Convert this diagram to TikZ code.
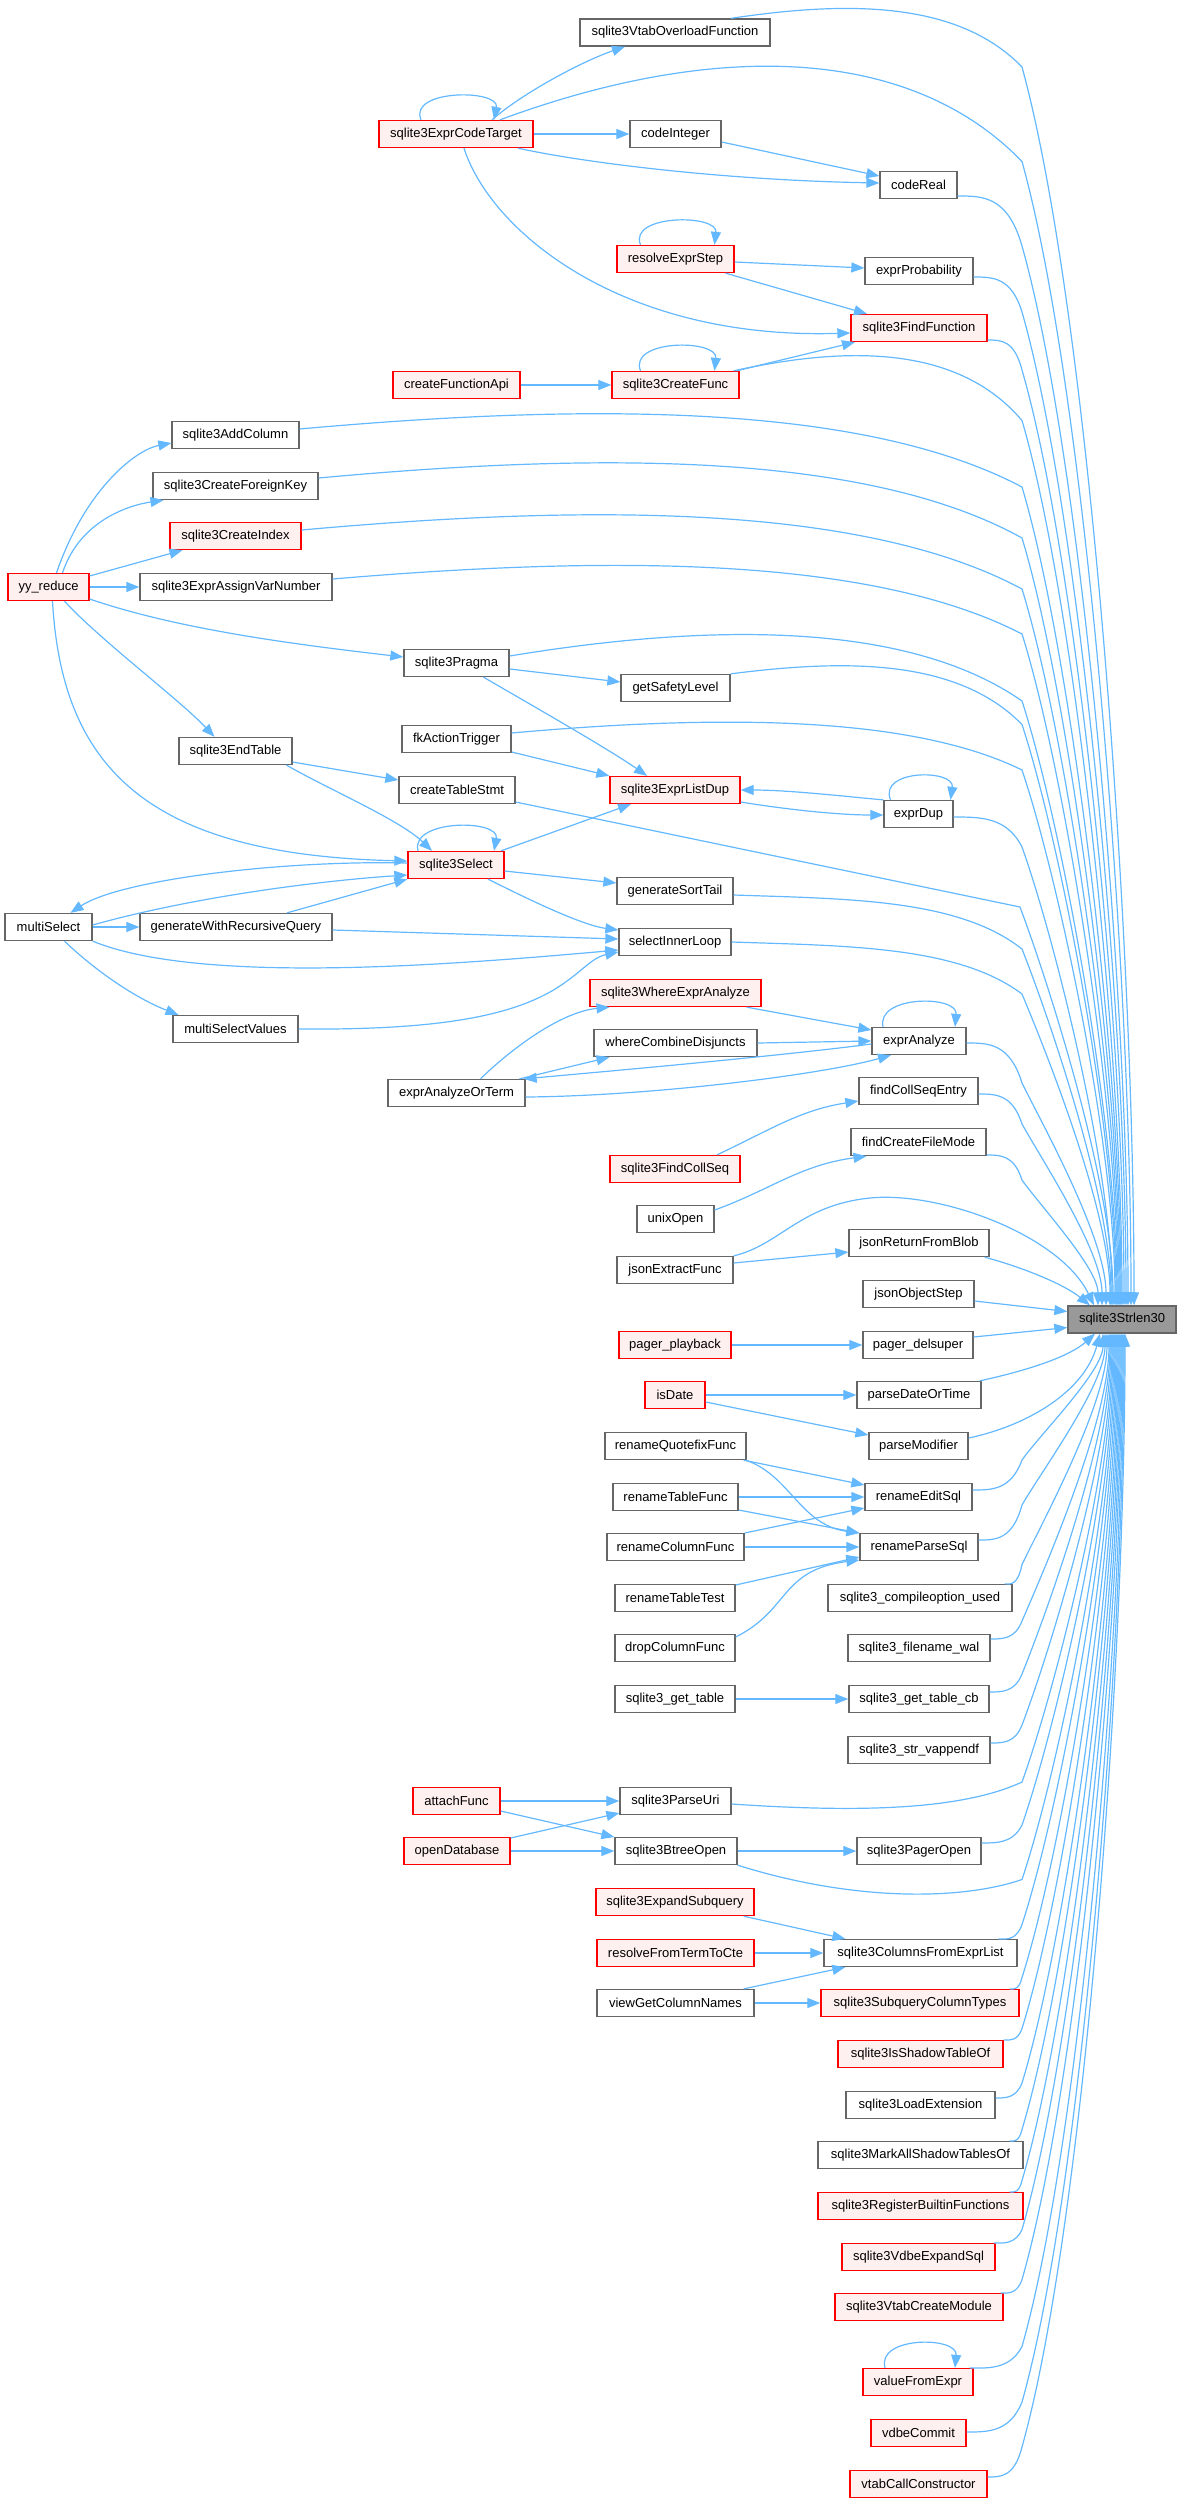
\documentclass[tikz,border=0pt]{standalone}
\usepackage{fontspec}
\setmainfont{Liberation Sans}
\usetikzlibrary{arrows.meta}
\definecolor{ecol}{HTML}{63B8FF}
\definecolor{gborder}{HTML}{666666}
\definecolor{rfill}{HTML}{FFF0F0}
\definecolor{rootfill}{HTML}{999999}
\tikzset{
 nd/.style={draw=gborder, fill=white, line width=1.3pt, minimum height=27pt, inner sep=0pt, font=\fontsize{13}{15}\selectfont, text=black},
 rd/.style={nd, draw=red, fill=rfill},
 rootnd/.style={nd, fill=rootfill},
 conn/.style={draw=ecol, line width=1.2pt, -{Triangle[length=13pt,width=10pt]}},
}
\newcommand\NB[6]{\node[#1,minimum width=#5pt] (#2) at (#3,#4) {#6};}
% upper edge into root top
\newcommand\UE[6]{%
 \pgfmathsetmacro\qD{1022-#2}%
 \pgfmathsetmacro\qa{#2+0.4*\qD}%
 \pgfmathsetmacro\qb{#3-1.3*(#5)}%
 \pgfmathsetmacro\qc{1022-0.22*\qD}%
 \pgfmathsetmacro\qk{#3+(#6)}%
 \pgfmathsetmacro\qL{1305.5-\qk}%
 \pgfmathsetmacro\qe{1022+0.045*\qL+12}%
 \pgfmathsetmacro\qf{\qk+0.2*\qL}%
 \pgfmathsetmacro\qg{\qk+0.7*\qL}%
 \pgfmathsetmacro\qx{#4-1122}%
 \draw[conn] (#1) .. controls (\qa,\qb) and (\qc,\qb) .. (1022,\qk) .. controls (\qe,\qf) and (#4,\qg) .. ([xshift=\qx pt]s30.north);
}
% lower edge into root bottom
\newcommand\DE[6]{%
 \pgfmathsetmacro\qD{1022-#2}%
 \pgfmathsetmacro\qa{#2+0.4*\qD}%
 \pgfmathsetmacro\qb{#3+1.3*(#5)}%
 \pgfmathsetmacro\qc{1022-0.22*\qD}%
 \pgfmathsetmacro\qk{#3-(#6)}%
 \pgfmathsetmacro\qL{\qk-1333.5}%
 \pgfmathsetmacro\qe{1022+0.045*\qL+12}%
 \pgfmathsetmacro\qf{\qk-0.2*\qL}%
 \pgfmathsetmacro\qg{\qk-0.7*\qL}%
 \pgfmathsetmacro\qx{#4-1122}%
 \draw[conn] (#1) .. controls (\qa,\qb) and (\qc,\qb) .. (1022,\qk) .. controls (\qe,\qf) and (#4,\qg) .. ([xshift=\qx pt]s30.south);
}
\begin{document}
\begin{tikzpicture}[x=1pt,y=-1pt]
\useasboundingbox (0,0) rectangle (1181,2502);
% column A
\NB{rd}{yyr}{48.5}{587}{81}{yy\_reduce}
\NB{nd}{msel}{48.5}{927}{87}{multiSelect}
% column B
\NB{nd}{addc}{235.5}{435}{127}{sqlite3AddColumn}
\NB{nd}{cfk}{235.5}{486}{165}{sqlite3CreateForeignKey}
\NB{rd}{cidx}{235.5}{536}{131}{sqlite3CreateIndex}
\NB{nd}{eavn}{236}{587}{192}{sqlite3ExprAssignVarNumber}
\NB{nd}{endt}{235.5}{751}{113}{sqlite3EndTable}
\NB{nd}{gwrq}{236}{927}{192}{generateWithRecursiveQuery}
\NB{nd}{msv}{235.5}{1029}{125}{multiSelectValues}
% column C
\NB{rd}{ect}{456}{134}{154}{sqlite3ExprCodeTarget}
\NB{rd}{cfa}{456.5}{385}{127}{createFunctionApi}
\NB{nd}{prag}{456.5}{663}{105}{sqlite3Pragma}
\NB{nd}{fkat}{456.5}{739}{109}{fkActionTrigger}
\NB{nd}{cts}{457}{790}{116}{createTableStmt}
\NB{rd}{sel}{456}{865}{96}{sqlite3Select}
\NB{nd}{eaot}{456.5}{1093}{137}{exprAnalyzeOrTerm}
\NB{rd}{attf}{456.5}{1801}{87}{attachFunc}
\NB{rd}{opdb}{457}{1851}{106}{openDatabase}
% column D
\NB{nd}{vof}{675}{32.5}{190}{sqlite3VtabOverloadFunction}
\NB{nd}{cint}{675.5}{134}{91}{codeInteger}
\NB{rd}{res}{675.5}{259}{117}{resolveExprStep}
\NB{rd}{cfn}{675.5}{385}{127}{sqlite3CreateFunc}
\NB{nd}{gsl}{675.5}{688}{109}{getSafetyLevel}
\NB{rd}{eld}{675}{790}{130}{sqlite3ExprListDup}
\NB{nd}{gst}{675}{891}{116}{generateSortTail}
\NB{nd}{sil}{675}{942}{112}{selectInnerLoop}
\NB{rd}{wea}{675.5}{993}{171}{sqlite3WhereExprAnalyze}
\NB{nd}{wcd}{675.5}{1043}{163}{whereCombineDisjuncts}
\NB{rd}{fcs}{675}{1169}{130}{sqlite3FindCollSeq}
\NB{nd}{uxo}{675.5}{1219}{77}{unixOpen}
\NB{nd}{jef}{675}{1270}{116}{jsonExtractFunc}
\NB{rd}{ppb}{675}{1345}{112}{pager\_playback}
\NB{rd}{isd}{675}{1395}{60}{isDate}
\NB{nd}{rqf}{675.5}{1446}{141}{renameQuotefixFunc}
\NB{nd}{rtf}{675.5}{1497}{125}{renameTableFunc}
\NB{nd}{rcf}{675.5}{1547}{137}{renameColumnFunc}
\NB{nd}{rtt}{675}{1598}{120}{renameTableTest}
\NB{nd}{dcf}{675}{1648}{120}{dropColumnFunc}
\NB{nd}{sgt}{675}{1699}{120}{sqlite3\_get\_table}
\NB{nd}{pu}{675.5}{1801}{111}{sqlite3ParseUri}
\NB{nd}{bto}{676}{1851}{122}{sqlite3BtreeOpen}
\NB{rd}{exs}{675}{1902}{158}{sqlite3ExpandSubquery}
\NB{rd}{rfc}{675.5}{1953}{157}{resolveFromTermToCte}
\NB{nd}{vgcn}{675.5}{2003}{157}{viewGetColumnNames}
% column E
\NB{nd}{creal}{918.5}{185}{77}{codeReal}
\NB{nd}{eprob}{919}{271}{108}{exprProbability}
\NB{rd}{ffn}{919}{328}{136}{sqlite3FindFunction}
\NB{nd}{edup}{918.5}{814}{69}{exprDup}
\NB{nd}{ean}{919}{1041}{94}{exprAnalyze}
\NB{nd}{fcse}{918.5}{1091}{119}{findCollSeqEntry}
\NB{nd}{fcfm}{918.5}{1142}{135}{findCreateFileMode}
\NB{nd}{jrfb}{919}{1243}{140}{jsonReturnFromBlob}
\NB{nd}{jos}{918.5}{1294}{111}{jsonObjectStep}
\NB{nd}{pds}{918}{1345}{110}{pager\_delsuper}
\NB{nd}{pdot}{919}{1395}{124}{parseDateOrTime}
\NB{nd}{pmod}{918.5}{1446}{99}{parseModifier}
\NB{nd}{res2}{918.5}{1497}{107}{renameEditSql}
\NB{nd}{rps}{919}{1547}{118}{renameParseSql}
\NB{nd}{cou}{920}{1598}{184}{sqlite3\_compileoption\_used}
\NB{nd}{fwal}{919}{1648}{142}{sqlite3\_filename\_wal}
\NB{nd}{gtcb}{919}{1699}{140}{sqlite3\_get\_table\_cb}
\NB{nd}{svf}{919}{1750}{142}{sqlite3\_str\_vappendf}
\NB{nd}{pgo}{919}{1851}{124}{sqlite3PagerOpen}
\NB{nd}{cfel}{920.5}{1953}{193}{sqlite3ColumnsFromExprList}
\NB{rd}{sct}{920}{2003}{198}{sqlite3SubqueryColumnTypes}
\NB{rd}{isto}{920.5}{2054}{165}{sqlite3IsShadowTableOf}
\NB{nd}{lext}{920.5}{2105}{149}{sqlite3LoadExtension}
\NB{nd}{mast}{920.5}{2155}{205}{sqlite3MarkAllShadowTablesOf}
\NB{rd}{rbf}{920.5}{2206}{205}{sqlite3RegisterBuiltinFunctions}
\NB{rd}{ves}{918.5}{2257}{153}{sqlite3VdbeExpandSql}
\NB{rd}{vcm}{919}{2307}{168}{sqlite3VtabCreateModule}
\NB{rd}{vfe}{918}{2382}{110}{valueFromExpr}
\NB{rd}{vdc}{918.5}{2433}{95}{vdbeCommit}
\NB{rd}{vcc}{918.5}{2484}{137}{vtabCallConstructor}
% root
\NB{rootnd}{s30}{1122}{1319.5}{108}{sqlite3Strlen30}

% ---- top cluster
\draw[conn] ([xshift=36pt]ect.north) .. controls (520,95) and (580,62) .. ([xshift=-50pt]vof.south);
\draw[conn] ([xshift=-35pt]ect.north) .. controls (408,89) and (500,89) .. ([xshift=38pt]ect.north);
\draw[conn] (ect.east) -- (cint.west);
\draw[conn] ([xshift=62pt]ect.south) .. controls (580,162) and (720,180) .. ([yshift=2pt]creal.west);
\draw[conn] ([yshift=-8pt]cint.east) -- ([yshift=9pt]creal.west);
\draw[conn] ([xshift=8pt]ect.south) .. controls (490,230) and (620,340) .. ([yshift=-5pt]ffn.west);
\draw[conn] ([xshift=-35pt]res.north) .. controls (628,214) and (718,214) .. ([xshift=39pt]res.north);
\draw[conn] ([yshift=-3pt]res.east) -- ([yshift=3pt]eprob.west);
\draw[conn] ([xshift=50pt]res.south) -- ([xshift=-52pt]ffn.north);
\draw[conn] (cfa.east) -- (cfn.west);
\draw[conn] ([xshift=-35pt]cfn.north) .. controls (628,339) and (718,339) .. ([xshift=39pt]cfn.north);
\draw[conn] ([xshift=61pt]cfn.north) -- ([xshift=-64pt]ffn.south);

% ---- yy_reduce
\draw[conn] ([xshift=8pt]yyr.north) .. controls (85,490) and (135,450) .. ([yshift=-8pt]addc.west);
\draw[conn] ([xshift=14pt]yyr.north) .. controls (80,520) and (130,505) .. ([xshift=-72pt]cfk.south);
\draw[conn] ([yshift=11pt]yyr.east) -- ([xshift=-53pt]cidx.south);
\draw[conn] (yyr.east) -- (eavn.west);
\draw[conn] ([yshift=-12pt]yyr.east) .. controls (180,630) and (300,645) .. ([yshift=6pt]prag.west);
\draw[conn] ([xshift=16pt]yyr.south) .. controls (100,640) and (180,700) .. ([xshift=-21pt]endt.north);
\draw[conn] ([xshift=4pt]yyr.south) .. controls (62,770) and (150,855) .. ([yshift=4pt]sel.west);

% ---- pragma / listdup
\draw[conn] ([yshift=-6pt]prag.east) -- ([yshift=6pt]gsl.west);
\draw[conn] ([xshift=27pt]prag.south) .. controls (540,710) and (610,750) .. ([xshift=-28pt]eld.north);
\draw[conn] ([yshift=-13pt]fkat.east) -- (eld.north west);
\draw[conn] ([yshift=-11pt]endt.east) -- ([yshift=10pt]cts.west);
\draw[conn] ([xshift=51pt]endt.south) .. controls (330,790) and (400,820) .. ([xshift=-24pt]sel.north);
\draw[conn] ([yshift=-12pt]eld.east) .. controls (790,810) and (840,815) .. ([yshift=-1pt]edup.west);
\draw[conn] (edup.north west) .. controls (850,797) and (790,790) .. (eld.east);
\draw[conn] ([xshift=-28pt]edup.north) .. controls (878,769) and (955,769) .. ([xshift=32pt]edup.north);

% ---- select
\draw[conn] ([xshift=-38pt]sel.north) .. controls (410,819) and (500,819) .. ([xshift=38pt]sel.north);
\draw[conn] ([xshift=45pt]sel.north) -- ([xshift=-44pt]eld.south);
\draw[conn] ([yshift=-6pt]sel.east) -- ([yshift=8pt]gst.west);
\draw[conn] ([xshift=32pt]sel.south) .. controls (520,895) and (580,925) .. ([yshift=12pt]sil.west);
\draw[conn] ([yshift=2pt]sel.west) .. controls (280,860) and (120,880) .. ([xshift=22pt]msel.north);
\draw[conn] ([yshift=2pt]msel.east) .. controls (200,895) and (330,880) .. ([yshift=-10pt]sel.west);
\draw[conn] (msel.east) -- (gwrq.west);
\draw[conn] ([xshift=51pt]gwrq.north) -- (sel.south west);
\draw[conn] ([yshift=-3pt]gwrq.east) -- ([yshift=3pt]sil.west);
\draw[conn] (msel.south east) .. controls (200,985) and (450,965) .. ([yshift=-8pt]sil.west);
\draw[conn] ([xshift=16pt]msel.south) .. controls (100,975) and (140,1000) .. ([xshift=-57pt]msv.north);
\draw[conn] (msv.east) .. controls (420,1030) and (500,1020) .. (550,992) .. controls (580,975) and (590,958) .. ([yshift=-10pt]sil.west);

% ---- where
\draw[conn] ([xshift=-15pt]wea.south east) -- ([yshift=11pt]ean.west);
\draw[conn] (wcd.east) -- (ean.west);
\draw[conn] ([yshift=-3pt]ean.west) .. controls (780,1056) and (600,1072) .. ([xshift=-2pt]eaot.north east);
\draw[conn] ([xshift=24pt]eaot.north) .. controls (510,1050) and (560,1012) .. ([xshift=-66pt]wea.south);
\draw[conn] ([xshift=63pt]eaot.north) -- ([xshift=-66pt]wcd.south);
\draw[conn] ([yshift=-4pt]eaot.east) .. controls (650,1096) and (820,1075) .. ([xshift=-28pt]ean.south);
\draw[conn] ([xshift=-36pt]ean.north) .. controls (876,995) and (958,995) .. ([xshift=36pt]ean.north);
\draw[conn] ([xshift=42pt]fcs.north) .. controls (770,1130) and (800,1110) .. ([yshift=-10pt]fcse.west);
\draw[conn] ([yshift=9pt]uxo.east) .. controls (770,1190) and (800,1165) .. ([xshift=-52pt]fcfm.south);

% ---- json / pager / date / rename
\draw[conn] ([yshift=7pt]jef.east) -- ([yshift=-9pt]jrfb.west);
\draw[conn] (ppb.east) -- (pds.west);
\draw[conn] (isd.east) -- (pdot.west);
\draw[conn] ([yshift=-7pt]isd.east) -- ([yshift=11pt]pmod.west);
\draw[conn] ([xshift=-3pt]rqf.south east) -- ([yshift=12pt]res2.west);
\draw[conn] ([xshift=-1pt]rqf.south east) .. controls (790,1475) and (800,1525) .. ([yshift=14pt]rps.west);
\draw[conn] (rtf.east) -- (res2.west);
\draw[conn] ([yshift=-13pt]rtf.east) -- ([yshift=14pt]rps.west);
\draw[conn] ([yshift=14pt]rcf.east) -- ([yshift=-11pt]res2.west);
\draw[conn] (rcf.east) -- (rps.west);
\draw[conn] ([yshift=13pt]rtt.east) -- ([yshift=-10pt]rps.west);
\draw[conn] ([yshift=11pt]dcf.east) .. controls (790,1610) and (780,1570) .. ([yshift=-13pt]rps.west);
\draw[conn] (sgt.east) -- (gtcb.west);

% ---- btree / parseuri
\draw[conn] (attf.east) -- (pu.west);
\draw[conn] ([yshift=-10pt]attf.east) -- ([yshift=14pt]bto.west);
\draw[conn] ([yshift=13pt]opdb.east) -- ([yshift=-12pt]pu.west);
\draw[conn] (opdb.east) -- (bto.west);
\draw[conn] (bto.east) -- (pgo.west);

% ---- columns
\draw[conn] ([xshift=-11pt]exs.south east) -- ([xshift=22pt]cfel.north west);
\draw[conn] (rfc.east) -- (cfel.west);
\draw[conn] ([xshift=-11pt]vgcn.north east) -- ([xshift=22pt]cfel.south west);
\draw[conn] (vgcn.east) -- (sct.west);
\draw[conn] ([xshift=-33pt]vfe.north) .. controls (876,2336) and (958,2336) .. ([xshift=37pt]vfe.north);

% ---- edges into sqlite3Strlen30 from above
\UE{[xshift=56pt]vof.north}{731}{19}{1134}{14}{48}
\UE{[xshift=44pt]ect.north}{500}{120.5}{1131}{60}{41}
\UE{[yshift=-11pt]creal.east}{957}{196}{1128}{0}{50}
\UE{[yshift=-6pt]eprob.east}{973}{277}{1126}{0}{35}
\UE{[yshift=-12pt]ffn.east}{987}{340}{1124}{0}{30}
\UE{[xshift=58pt]cfn.north}{733}{371.5}{1122}{20}{49}
\UE{[yshift=6pt]addc.east}{299}{429}{1121}{20}{58}
\UE{[yshift=8pt]cfk.east}{318}{478}{1120}{20}{60}
\UE{[yshift=6pt]cidx.east}{301}{530}{1119}{20}{59}
\UE{[yshift=8pt]eavn.east}{332}{579}{1118}{18}{55}
\UE{[yshift=7pt]prag.east}{509}{656}{1117}{26}{45}
\UE{gsl.north east}{730}{674.5}{1116}{12}{50}
\UE{[yshift=6pt]fkat.east}{511}{733}{1115}{14}{37}
\draw[conn] ([yshift=-12pt]cts.east) -- (1020,907) .. controls (1050,987) and (1113,1186) .. ([xshift=-9pt]s30.north);
\UE{[yshift=-3pt]edup.east}{953}{817}{1112}{0}{30}
\UE{[yshift=-4pt]gst.east}{733}{895}{1111}{-3}{54}
\UE{sil.east}{731}{942}{1110}{-3}{52}
\UE{[yshift=-2pt]ean.east}{966}{1043}{1106}{0}{40}
\UE{[yshift=-3pt]fcse.east}{978}{1094}{1102}{0}{30}
\UE{[yshift=-13pt]fcfm.east}{986}{1155}{1098}{0}{25}
\draw[conn] (jef.north east) .. controls (780,1245) and (800,1205) .. (870,1198) .. controls (940,1191) and (1060,1235) .. ([xshift=-28pt]s30.north);
\draw[conn] ([xshift=-5pt]jrfb.south east) .. controls (1025,1268) and (1065,1285) .. ([xshift=-32pt]s30.north);
% ---- from the left side
\draw[conn] ([yshift=-7pt]jos.east) -- ([yshift=8pt]s30.west);
\draw[conn] ([yshift=8pt]pds.east) -- ([yshift=-8pt]s30.west);
% ---- from below
\draw[conn] ([xshift=-2pt]pdot.north east) .. controls (1030,1370) and (1070,1356) .. ([xshift=-27pt]s30.south);
\draw[conn] ([yshift=8pt]pmod.east) .. controls (1030,1425) and (1085,1390) .. ([xshift=-22pt]s30.south);
\DE{[yshift=7pt]res2.east}{972}{1490}{1103}{0}{30}
\DE{[yshift=7pt]rps.east}{978}{1540}{1105}{0}{35}
\DE{[xshift=-8pt]cou.north east}{1004}{1584.5}{1107}{0}{20}
\DE{[yshift=9pt]fwal.east}{990}{1639}{1109}{0}{18}
\DE{[yshift=7pt]gtcb.east}{989}{1692}{1110}{0}{18}
\DE{[yshift=7pt]svf.east}{990}{1743}{1111}{0}{18}
\DE{[yshift=-3pt]pu.east}{731}{1804}{1112}{6}{22}
\DE{[yshift=8pt]pgo.east}{981}{1843}{1113}{0}{18}
\DE{bto.south east}{737}{1864.5}{1114}{28}{-15}
\DE{[xshift=-19pt]cfel.north east}{998}{1939.5}{1115}{0}{15}
\DE{[xshift=-10pt]sct.north east}{1009}{1989.5}{1116}{0}{12}
\DE{isto.north east}{1003}{2040.5}{1117}{0}{12}
\DE{[yshift=7pt]lext.east}{995}{2098}{1118}{0}{15}
\DE{[xshift=-14pt]mast.north east}{1009}{2141.5}{1119}{0}{12}
\DE{[xshift=-14pt]rbf.north east}{1009}{2192.5}{1120}{0}{12}
\DE{[xshift=-2pt]ves.north east}{993}{2243.5}{1121}{0}{14}
\DE{[xshift=-3pt]vcm.north east}{1000}{2293.5}{1122}{0}{14}
\DE{[xshift=-4pt]vfe.north east}{969}{2368.5}{1123}{0}{22}
\DE{[yshift=1pt]vdc.east}{966}{2432}{1124}{0}{30}
\DE{[yshift=7pt]vcc.east}{987}{2477}{1125}{0}{30}
\end{tikzpicture}
\end{document}
